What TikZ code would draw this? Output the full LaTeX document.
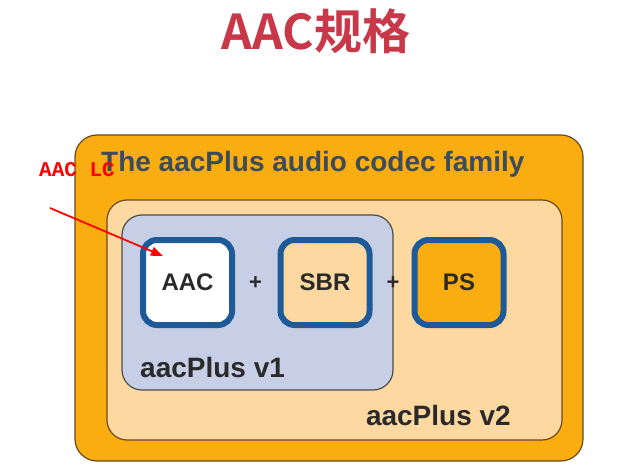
\documentclass[tikz,border=0pt]{standalone}
\usepackage{fontspec}
\setmainfont{Liberation Sans}
\newfontfamily\cjkbold{Noto Sans CJK SC}[BoldFont={* Bold}]
\newfontfamily\monof{Liberation Mono}
\usetikzlibrary{arrows.meta}
\definecolor{outerorange}{HTML}{F9AD10}
\definecolor{lightorange}{HTML}{FDD8A0}
\definecolor{paleblue}{HTML}{C6CFE6}
\definecolor{boxblue}{HTML}{1E5A98}
\definecolor{edgebrown}{HTML}{6B4A1E}
\definecolor{titlered}{HTML}{C83848}
\definecolor{slate}{HTML}{3C4C5A}
\definecolor{textdark}{HTML}{2A2A2A}
\tikzset{
  region/.style={draw=edgebrown, line width=1.2pt, rounded corners=20pt},
  modbox/.style={draw=boxblue, line width=6pt, rounded corners=14pt,
    minimum width=89pt, minimum height=85pt, inner sep=0pt,
    font=\fontsize{24}{28}\selectfont\bfseries, text=textdark},
  lbl/.style={font=\fontsize{28}{32}\selectfont\bfseries, text=textdark, inner sep=0pt},
  plus/.style={font=\fontsize{22}{24}\selectfont\bfseries, text=textdark, inner sep=0pt}
}
\begin{document}
\begin{tikzpicture}[x=1pt,y=-1pt]
\useasboundingbox (0,0) rectangle (619,468);
\node[font=\cjkbold\fontsize{48}{52}\selectfont\bfseries, text=titlered, inner sep=0pt] (title) at (316,31) {AAC规格};
\node[region, fill=outerorange, minimum width=508pt, minimum height=326pt, inner sep=0pt, rounded corners=22pt] (outer) at (329,298) {};
\node[lbl, text=slate, anchor=base west] (fam) at (101,172) {The aacPlus audio codec family};
\node[region, fill=lightorange, minimum width=455pt, minimum height=240pt, inner sep=0pt] (mid) at (334.5,320) {};
\node[region, draw=black!70, fill=paleblue, minimum width=271pt, minimum height=175pt, inner sep=0pt] (v1) at (257.5,302.5) {};
\node[modbox, fill=white] (aac) at (187.5,282.5) {AAC};
\node[modbox, fill=lightorange] (sbr) at (325,282.5) {SBR};
\node[modbox, fill=outerorange] (ps) at (459,282.5) {PS};
\node[plus] (p1) at (255.5,283) {+};
\node[plus] (p2) at (393,283) {+};
\node[lbl, anchor=base west] (v1lbl) at (140,377) {aacPlus v1};
\node[lbl, anchor=base east] (v2lbl) at (511,425) {aacPlus v2};
\node[font=\monof\fontsize{21}{24}\selectfont\bfseries, text=red, inner sep=0pt, anchor=base west] (lc) at (39,177) {AAC LC};
\coordinate (tail) at (50,208);
\draw[red, line width=1.8pt, -{Triangle[length=12pt,width=9pt]}] (tail) -- (163,256);
\end{tikzpicture}
\end{document}
